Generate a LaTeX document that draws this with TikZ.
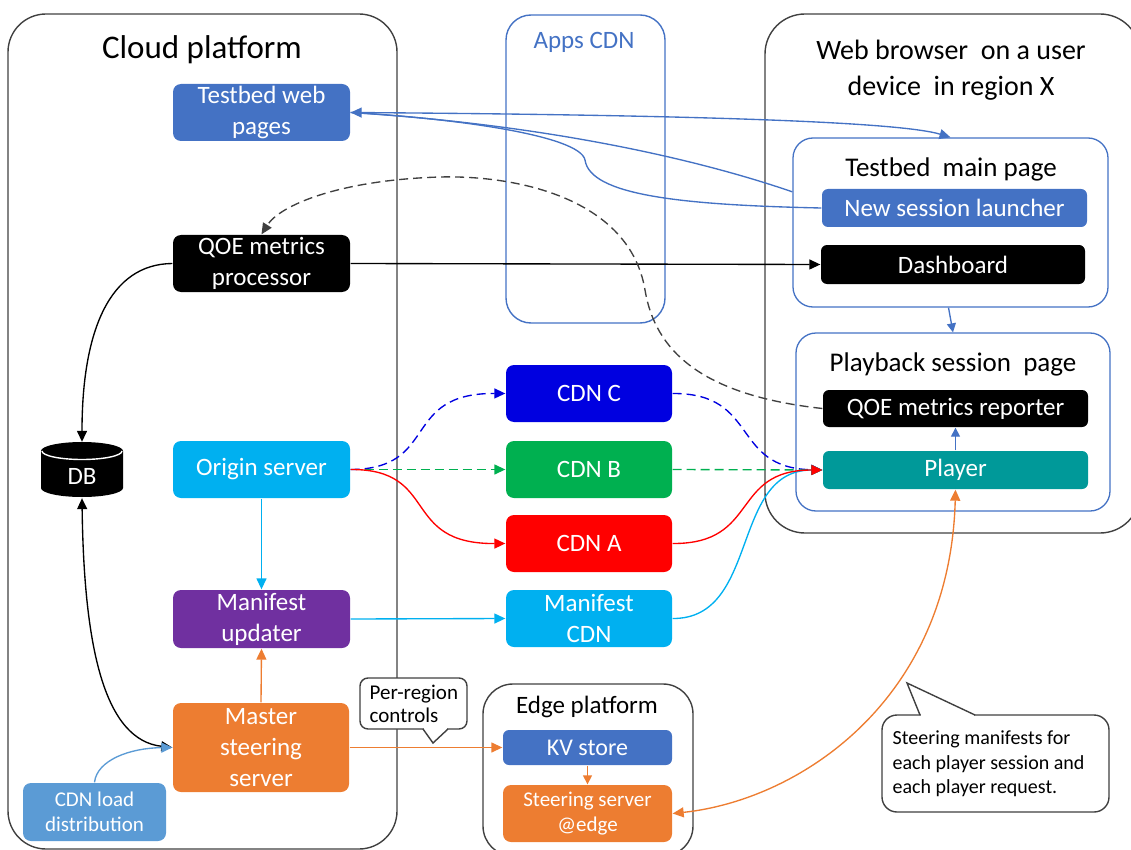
\documentclass[tikz,border=0pt]{standalone}
\usepackage{fontspec}
\setmainfont{Carlito}
\usetikzlibrary{arrows.meta,calc}

\definecolor{msblue}{HTML}{4472C4}
\definecolor{skyb}{HTML}{00B0F0}
\definecolor{purp}{HTML}{7030A0}
\definecolor{orng}{HTML}{ED7D31}
\definecolor{lblue}{HTML}{5B9BD5}
\definecolor{cdnccol}{HTML}{0000E0}
\definecolor{cdnbcol}{HTML}{00B050}
\definecolor{cdnacol}{HTML}{FF0000}
\definecolor{tealc}{HTML}{009999}
\definecolor{framegray}{HTML}{404040}

\newcommand\fsz[2]{\fontsize{#1}{#2}\selectfont}
\newcommand\wsp{\hspace{0.45em}}

\begin{document}
\begin{tikzpicture}[x=1pt, y=-1pt, line width=1.35pt,
  >={Triangle[length=11pt,width=10pt]},
  box/.style={rectangle, rounded corners=8pt, inner sep=0pt, text=white,
              align=center, font=\fsz{25}{31}},
  wide/.style={box, minimum width=177pt, minimum height=57pt},
  cdnbox/.style={box, minimum width=166pt, minimum height=57pt},
  pagebox/.style={box, minimum width=265pt, minimum height=38pt, rounded corners=6pt},
  container/.style={rectangle, draw=framegray, line width=1.4pt, inner sep=0pt},
  subpage/.style={rectangle, draw=msblue, line width=1.3pt, inner sep=0pt, rounded corners=20pt},
  heading/.style={inner sep=0pt, align=center, text=black},
  callout/.style={draw=framegray, line width=1.4pt, fill=white},
  conn/.style={->},
  smalltip/.style={>={Triangle[length=9pt,width=9pt]}},
]
\useasboundingbox (0,0) rectangle (1131,850);

% ---------- containers ----------
\node[container, rounded corners=38pt, minimum width=389pt, minimum height=835pt] (cloud) at (202.5,431.5) {};
\node[container, draw=msblue, rounded corners=25pt, minimum width=159pt, minimum height=308pt] (apps) at (585.5,169) {};
\node[container, rounded corners=40pt, minimum width=375pt, minimum height=519pt] (web) at (952.5,273.5) {};
\node[container, rounded corners=30pt, minimum width=210pt, minimum height=172pt] (edge) at (588,770) {};
\node[subpage, minimum width=315pt, minimum height=169pt] (tmain) at (950.5,222.5) {};
\node[subpage, minimum width=314pt, minimum height=178pt] (pb) at (953,422) {};

% ---------- headings ----------
\node[heading, font=\fsz{33}{38}] (cloudt) at (202,50) {Cloud platform};
\node[heading, font=\fsz{25}{30}, text=msblue] (appst) at (584,42) {Apps CDN};
\node[heading, font=\fsz{28}{36}] (webt) at (951,70) {Web browser\wsp on a user\\device\wsp in region X};
\node[heading, font=\fsz{27}{30}] (tmaint) at (951,169) {Testbed\wsp main page};
\node[heading, font=\fsz{27}{30}] (pbt) at (953,364) {Playback session\wsp page};
\node[heading, font=\fsz{25}{30}] (edget) at (587,707) {Edge platform};

% ---------- cloud platform boxes ----------
\node[wide, fill=msblue] (tw) at (261.5,112.5) {Testbed web\\pages};
\node[wide, fill=black] (qp) at (261.5,263.5) {QOE metrics\\processor};
\node[wide, fill=skyb] (os) at (261.5,469.5) {Origin server};
\node[wide, fill=purp, minimum height=58pt] (mu) at (261.5,619) {Manifest\\updater};
\node[wide, fill=orng, minimum width=176pt, minimum height=89pt] (ms) at (261,747.5) {Master\\steering\\server};
\node[box, fill=lblue, minimum width=143pt, minimum height=58pt, font=\fsz{21}{25}] (cl) at (94.5,812) {CDN load\\distribution};

% database cylinder
\node[minimum width=82pt, minimum height=55pt, inner sep=0pt] (db) at (82,470) {};
\fill[black] (41,451) -- (41,488) arc[start angle=180, end angle=360, x radius=41pt, y radius=9pt]
  -- (123,451) arc[start angle=0, end angle=180, x radius=41pt, y radius=9pt] -- cycle;
\draw[white, line width=1.4pt] (42,451) arc[start angle=180, end angle=360, x radius=40pt, y radius=8.5pt];
\node[heading, text=white, font=\fsz{25}{30}] (dbl) at (82,476) {DB};

% ---------- CDNs ----------
\node[cdnbox, fill=cdnccol] (cdnc) at (589,393.5) {CDN C};
\node[cdnbox, fill=cdnbcol] (cdnb) at (589,469.5) {CDN B};
\node[cdnbox, fill=cdnacol] (cdna) at (589,543.5) {CDN A};
\node[cdnbox, fill=skyb] (mcdn) at (589,618.5) {Manifest\\CDN};

% ---------- edge platform ----------
\node[box, fill=msblue, minimum width=169pt, minimum height=35pt, rounded corners=6pt, font=\fsz{24}{28}] (kv) at (587.5,747.5) {KV store};
\node[box, fill=orng, minimum width=169pt, minimum height=57pt, font=\fsz{21}{25}] (ss) at (587.5,813.5) {Steering server\\@edge};

% ---------- browser pages ----------
\node[pagebox, fill=msblue] (nsl) at (954.5,208) {New session launcher};
\node[pagebox, fill=black, minimum width=264pt, minimum height=39pt] (dash) at (953,264.5) {Dashboard};
\node[pagebox, fill=black, minimum height=37pt] (qr) at (955.5,408.5) {QOE metrics reporter};
\node[pagebox, fill=tealc] (pl) at (955.5,470) {Player};

% ---------- callouts ----------
\draw[callout, rounded corners=8pt] (360,678) rectangle (467,729);
\fill[white] (424,727) rectangle (447,731.5);
\draw[framegray, line width=1.4pt, line join=miter] (423,729) -- (433,743) -- (448,729);
\node[heading, anchor=west, align=left, font=\fsz{21}{23}] (prc) at (369,703.5) {Per-region\\controls};

\draw[callout, rounded corners=15pt] (882,715) rectangle (1109,812);
\fill[white] (921,713) rectangle (974,717.5);
\draw[framegray, line width=1.4pt, line join=miter] (920,715) -- (907,683) -- (975,715);
\node[heading, anchor=west, align=left, font=\fsz{20}{24.5}] (smc) at (892,764) {Steering manifests for\\each player session and\\each player request.};

% ---------- connectors: testbed pages ----------
\draw[<->, msblue] (tw.east) .. controls (700,115) and (900,122) .. (tmain.north);
\draw[msblue] (tw.east) .. controls (550,125) and (700,160) .. ($(tmain.north west)!0.32!(tmain.south west)$);
\draw[msblue] (nsl.west) .. controls (680,205) and (590,195) .. (585,160)
  .. controls (580,135) and (450,118) .. (tw.east);
\draw[conn, msblue, smalltip] ([xshift=-2pt]tmain.south) -- (pb.north);
\draw[conn, msblue, smalltip] (pl.north) -- (qr.south);

% ---------- connectors: QOE metrics ----------
\draw[conn] (qp.east) -- (dash.west);
\draw[->, framegray, dash pattern=on 9pt off 5pt] (qr.west) .. controls (700,395) and (655,350) .. (645,290)
  .. controls (630,200) and (520,175) .. (440,177)
  .. controls (340,180) and (280,205) .. (qp.north);

% ---------- connectors: database ----------
\draw[conn] (qp.west) .. controls (110,264) and (82,330) .. (db.north);
\draw[<->] (db.south) .. controls (84,650) and (105,740) .. (ms.west);
\draw[conn, lblue] (cl.north) .. controls (97,760) and (130,748) .. (ms.west);

% ---------- connectors: content delivery ----------
\draw[conn, skyb] (os.south) -- (mu.north);
\draw[conn, orng] (ms.north) -- (mu.south);
\draw[conn, skyb] (mu.east) -- (mcdn.west);
\draw[conn, cdnccol, dash pattern=on 9pt off 5pt] (os.east) .. controls (440,469) and (400,393) .. (cdnc.west);
\draw[conn, cdnbcol, dash pattern=on 9pt off 5pt] (os.east) -- (cdnb.west);
\draw[conn, cdnacol] (os.east) .. controls (440,469) and (400,544) .. (cdna.west);

\draw[conn, skyb] (mcdn.east) .. controls (760,619) and (730,470) .. (pl.west);
\draw[conn, cdnccol, dash pattern=on 9pt off 5pt] (cdnc.east) .. controls (760,393) and (730,468) .. (pl.west);
\draw[conn, cdnbcol, dash pattern=on 9pt off 5pt] (cdnb.east) -- (pl.west);
\draw[conn, cdnacol] (cdna.east) .. controls (760,544) and (730,470) .. (pl.west);

% ---------- connectors: steering ----------
\draw[conn, orng] (ms.east) -- (kv.west);
\draw[conn, orng, smalltip] (kv.south) -- (ss.north);
\draw[<->, orng] (pl.south) .. controls (950,700) and (800,800) .. (ss.east);
\end{tikzpicture}
\end{document}
